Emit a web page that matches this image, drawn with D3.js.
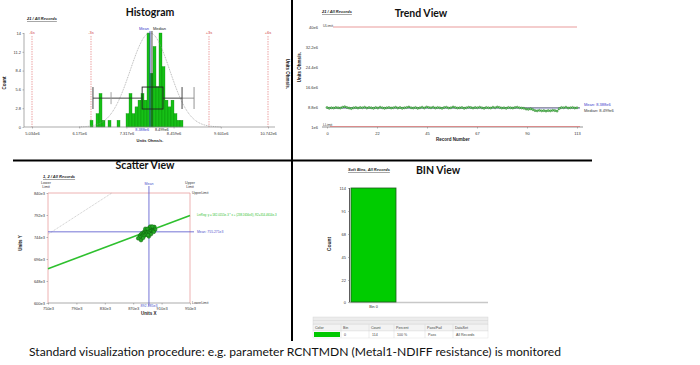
<!DOCTYPE html>
<html>
<head>
<meta charset="utf-8">
<script src="https://cdn.jsdelivr.net/npm/d3@7"></script>
<style>
  body { margin: 0; background: #fff; }
  svg { display: block; }
</style>
</head>
<body>
<div id="chart"></div>
<script>
// ---------- Histogram (x in sigma units around the mean) ----------
const histTickZ = [-6, -3.6, -1.2, 1.2, 3.6, 6];
const histTickLabels = ["5.034e6", "6.175e6", "7.317e6", "8.459e6", "9.601e6", "10.742e6"];
const histYTicks = [0, 2.8, 5.6, 8.4, 11.2, 14];
const histYLabels = ["0", "2.8", "5.6", "8.4", "11.2", "14"];
const histBinStart = -3.05;
const histBinWidth = 0.1525;
const histCounts = [1, 0, 2, 5, 1, 0, 1, 0, 0, 1, 0, 0, 2, 5, 2, 3, 4, 5, 4,
                    14, 8, 12, 6, 14, 9, 4, 3, 4, 2, 1, 1];
const sigmaZ = [-6, -3, 3, 6];
const sigmaLabels = ["-6s", "-3s", "+3s", "+6s"];
const histMedianZ = 0.1;
const histStatLabels = ["8.388e6", "8.499e6"];
const boxZ = [-2.9, -1.98, -0.4, 0.66, 1.63, 2.24]; // min, p5, q1, q3, max, p95

// ---------- Trend ----------
const trendValues = [
  8.6, 8.3, 8.5, 8.4, 8.6, 8.5, 8.4, 8.7, 8.9, 8.6,
  8.4, 8.2, 8.5, 8.6, 8.4, 8.6, 8.5, 8.7, 8.4, 8.6,
  8.5, 8.3, 8.6, 8.4, 8.7, 8.5, 8.3, 8.5, 8.6, 8.4,
  8.5, 8.7, 8.4, 8.6, 8.3, 8.5, 8.6, 8.8, 8.5, 8.4,
  8.6, 8.3, 8.5, 8.7, 8.4, 8.8, 8.6, 8.5, 8.7, 8.4,
  8.6, 8.5, 8.3, 8.6, 8.7, 8.4, 8.5, 8.8, 8.6, 8.4,
  8.5, 8.6, 8.3, 8.5, 8.7, 8.6, 8.4, 8.6, 8.5, 8.7,
  8.5, 8.3, 8.6, 8.5, 8.4, 8.7, 8.5, 8.8, 8.6, 8.4,
  8.5, 8.3, 8.6, 8.5, 8.4, 8.6, 8.7, 8.5, 8.4, 8.3,
  8.0, 7.9, 8.1, 7.8, 7.4, 7.3, 7.5, 7.3, 7.4, 7.2,
  7.4, 7.3, 7.5, 7.4, 7.2, 8.2, 8.6, 8.5, 8.7, 8.4,
  8.5, 8.6, 8.4, 8.5
]; // e6
const trendYTicks = [1e6, 8.8e6, 16.6e6, 24.4e6, 32.2e6, 40e6];
const trendYLabels = ["1e6", "8.8e6", "16.6e6", "24.4e6", "32.2e6", "40e6"];
const trendXTicks = [0, 22.6, 45.2, 67.8, 90.4, 113];
const trendXLabels = ["0", "22", "45", "67", "90", "113"];
const trendLimits = [40e6, 1e6];
const trendStats = [8.388e6, 8.499e6];

// ---------- Scatter (e3) ----------
const scatterX = [880, 882, 884, 885, 886, 887, 888, 889, 890, 891, 892, 893, 894, 895, 896,
                  897, 898, 899, 900, 901, 883, 886, 889, 892, 895, 879, 881, 896, 898, 893,
                  887, 884, 899, 891, 877, 894, 890, 897];
const scatterY = [748, 752, 750, 755, 753, 758, 751, 756, 754, 760, 757, 752, 759, 762, 758,
                  764, 761, 763, 766, 760, 745, 747, 749, 745, 750, 744, 737, 766, 757, 764,
                  762, 742, 755, 748, 741, 767, 762, 767];
const scatterXTicks = [750, 790, 830, 870, 910, 950];
const scatterYTicks = [600, 648, 696, 744, 792, 840];
const scatterMean = [892.185, 755.271];
const regSlope = 0.5820155, regIntercept = 238.1656;

// ---------- BIN ----------
const binLabels = ["Bin 0"];
const binCounts = [114];
const binYTicks = [0, 22, 45, 68, 91, 114];
const tableHeader = ["Color", "Bin", "Count", "Percent", "Pass/Fail", "DataSet"];
const tableRow = ["", "0", "114", "100 %", "Pass", "All Records"];

const FONT = "Liberation Sans, Arial, sans-serif";
const TITLE_FONT = "Lato, Open Sans, sans-serif";

const svg = d3.select("#chart").append("svg")
    .attr("width", 700)
    .attr("height", 365);

function txt(x, y, s, size, opts = {}) {
    const t = svg.append("text")
        .attr("x", x).attr("y", y)
        .attr("font-family", opts.family || FONT)
        .attr("font-size", size)
        .attr("fill", opts.fill || "#222")
        .attr("text-anchor", opts.anchor || "start")
        .text(s);
    if (opts.bold) t.attr("font-weight", "bold");
    if (opts.italic) t.attr("font-style", "italic");
    if (opts.underline) t.attr("text-decoration", "underline");
    if (opts.rotate) t.attr("transform", `rotate(${opts.rotate},${x},${y})`);
    return t;
}

function styleAxis(g) {
    g.attr("font-size", 4).attr("font-family", FONT);
    g.selectAll("text").attr("fill", "#333");
    g.selectAll("line").attr("stroke", "#777").attr("stroke-width", 0.5);
    g.select(".domain").remove();
}

// ================= HISTOGRAM =================
const hx = d3.scaleLinear().domain([-6, 6]).range([32, 268]);
const hy = d3.scaleLinear().domain([0, 14]).range([127, 33]);

txt(150, 16, "Histogram", 10.5, { family: TITLE_FONT, bold: true, anchor: "middle", fill: "#111" });
txt(27, 20, "21 / All Records", 4, { bold: true, italic: true, underline: true });

// sigma lines
sigmaZ.forEach((z, i) => {
    svg.append("line")
        .attr("x1", hx(z)).attr("x2", hx(z))
        .attr("y1", 36).attr("y2", hy(0))
        .attr("stroke", "#e06666").attr("stroke-width", 0.6)
        .attr("stroke-dasharray", "1.5,1");
    txt(hx(z), 34, sigmaLabels[i], 4, { fill: "#d04040", anchor: "middle" });
});

// bars
svg.append("g").selectAll("rect")
    .data(histCounts)
    .join("rect")
    .attr("x", (d, i) => hx(histBinStart + i * histBinWidth))
    .attr("width", hx(histBinWidth) - hx(0))
    .attr("y", d => hy(d))
    .attr("height", d => hy(0) - hy(d))
    .attr("fill", "#16c016")
    .attr("stroke", "#0b7d0b")
    .attr("stroke-width", 0.3);

// fitted normal curve
const curveZ = d3.range(-3.6, 3.61, 0.05);
svg.append("path")
    .datum(curveZ)
    .attr("fill", "none")
    .attr("stroke", "#888")
    .attr("stroke-width", 0.6)
    .attr("stroke-dasharray", "1,0.8")
    .attr("d", d3.line().x(z => hx(z)).y(z => hy(14 * Math.exp(-z * z / 2))));

// mean / median lines
svg.append("line").attr("x1", hx(0)).attr("x2", hx(0)).attr("y1", 31).attr("y2", hy(0))
    .attr("stroke", "#3a3acc").attr("stroke-width", 0.8);
svg.append("line").attr("x1", hx(histMedianZ)).attr("x2", hx(histMedianZ)).attr("y1", 31).attr("y2", hy(0))
    .attr("stroke", "#222").attr("stroke-width", 0.8);
txt(hx(0) - 1, 30, "Mean", 4, { fill: "#3a3acc", anchor: "end" });
txt(hx(histMedianZ) + 1, 30, "Median", 4, { fill: "#222" });

// box plot
const boxTop = hy(5.95), boxBot = hy(2.68), whY = hy(4.3);
svg.append("rect")
    .attr("x", hx(boxZ[2])).attr("y", boxTop)
    .attr("width", hx(boxZ[3]) - hx(boxZ[2])).attr("height", boxBot - boxTop)
    .attr("fill", "none").attr("stroke", "#222").attr("stroke-width", 0.9);
[[boxZ[0], boxZ[2], "#333"], [boxZ[3], boxZ[4], "#333"], [boxZ[4], boxZ[5], "#888"]].forEach(s => {
    svg.append("line").attr("x1", hx(s[0])).attr("x2", hx(s[1])).attr("y1", whY).attr("y2", whY)
        .attr("stroke", s[2]).attr("stroke-width", 0.9);
});
[[boxZ[0], boxTop, boxBot, "#333"], [boxZ[4], boxTop, boxBot, "#333"],
 [boxZ[1], whY - 6, whY + 6, "#999"], [boxZ[5], boxTop, boxBot, "#888"]].forEach(c => {
    svg.append("line").attr("x1", hx(c[0])).attr("x2", hx(c[0])).attr("y1", c[1]).attr("y2", c[2])
        .attr("stroke", c[3]).attr("stroke-width", 0.9);
});

// axes
svg.append("line").attr("x1", 24).attr("x2", 275).attr("y1", hy(0)).attr("y2", hy(0)).attr("stroke", "#888").attr("stroke-width", 0.7);
svg.append("line").attr("x1", 24).attr("x2", 24).attr("y1", hy(14)).attr("y2", hy(0)).attr("stroke", "#888").attr("stroke-width", 0.7);
svg.append("g").attr("transform", `translate(0,${hy(0)})`)
    .call(d3.axisBottom(hx).tickValues(histTickZ).tickFormat((d, i) => histTickLabels[i]).tickSize(1.5).tickPadding(4))
    .call(styleAxis);
svg.append("g").attr("transform", "translate(24,0)")
    .call(d3.axisLeft(hy).tickValues(histYTicks).tickFormat((d, i) => histYLabels[i]).tickSize(1.5).tickPadding(1.5))
    .call(styleAxis);
txt(hx(0) - 1, 130.5, histStatLabels[0], 3.8, { fill: "#3a3acc", anchor: "end" });
txt(hx(histMedianZ) + 3, 130.5, histStatLabels[1], 3.8, { fill: "#222" });
txt(150, 142, "Units Ohms/s.", 4, { anchor: "middle", bold: true });
txt(6, 83, "Count", 4.5, { anchor: "middle", bold: true, rotate: -90 });
txt(286, 74, "Units Ohms/s.", 4.5, { anchor: "middle", bold: true, rotate: 90 });

// ================= TREND =================
const tx = d3.scaleLinear().domain([0, 113]).range([327, 577]);
const ty = d3.scaleLinear().domain([1e6, 40e6]).range([127, 27]);

txt(421, 17, "Trend View", 10.5, { family: TITLE_FONT, bold: true, anchor: "middle", fill: "#111" });
txt(322, 13, "21 / All Records", 4, { bold: true, italic: true, underline: true });

svg.append("line").attr("x1", 322).attr("x2", 583).attr("y1", ty(1e6)).attr("y2", ty(1e6)).attr("stroke", "#666").attr("stroke-width", 0.7);
svg.append("g").attr("transform", `translate(0,${ty(1e6)})`)
    .call(d3.axisBottom(tx).tickValues(trendXTicks).tickFormat((d, i) => trendXLabels[i]).tickSize(1.5).tickPadding(4))
    .call(styleAxis);
svg.append("g").attr("transform", "translate(322,0)")
    .call(d3.axisLeft(ty).tickValues(trendYTicks).tickFormat((d, i) => trendYLabels[i]).tickSize(0).tickPadding(4))
    .call(styleAxis);

// limits
svg.append("line").attr("x1", 333).attr("x2", 577).attr("y1", ty(trendLimits[0])).attr("y2", ty(trendLimits[0]))
    .attr("stroke", "#e07070").attr("stroke-width", 0.7);
svg.append("line").attr("x1", 330).attr("x2", 580).attr("y1", ty(trendLimits[1]) - 0.5).attr("y2", ty(trendLimits[1]) - 0.5)
    .attr("stroke", "#e07070").attr("stroke-width", 0.7);
txt(323, ty(trendLimits[0]) - 0.5, "ULimit", 3.5, { fill: "#444" });
txt(323, ty(trendLimits[1]) - 1, "LLimit", 3.5, { fill: "#444" });

// mean / median
svg.append("line").attr("x1", 327).attr("x2", 580).attr("y1", ty(trendStats[0])).attr("y2", ty(trendStats[0]))
    .attr("stroke", "#3a3acc").attr("stroke-width", 0.5);
svg.append("line").attr("x1", 327).attr("x2", 580).attr("y1", ty(trendStats[1])).attr("y2", ty(trendStats[1]))
    .attr("stroke", "#333").attr("stroke-width", 0.5);
txt(584, 106, "Mean: 8.388e6", 4, { fill: "#3a3acc" });
txt(584, 111.5, "Median: 8.499e6", 4, { fill: "#333" });

svg.append("path")
    .datum(trendValues)
    .attr("fill", "none")
    .attr("stroke", "#2e8b2e")
    .attr("stroke-width", 0.8)
    .attr("d", d3.line().x((d, i) => tx(i)).y(d => ty(d * 1e6)));
svg.append("g").selectAll("circle")
    .data(trendValues)
    .join("circle")
    .attr("cx", (d, i) => tx(i))
    .attr("cy", d => ty(d * 1e6))
    .attr("r", 1.1)
    .attr("fill", "#6fcf6f")
    .attr("stroke", "#1f6f1f")
    .attr("stroke-width", 0.4);

txt(453, 141, "Record Number", 4.5, { anchor: "middle", bold: true });
txt(301, 67, "Units Ohms/s.", 4.5, { anchor: "middle", bold: true, rotate: -90 });

// ================= SCATTER =================
const sx = d3.scaleLinear().domain([750, 950]).range([48, 190]);
const sy = d3.scaleLinear().domain([600, 840]).range([303, 193]);

txt(145, 168.5, "Scatter View", 10.5, { family: TITLE_FONT, bold: true, anchor: "middle", fill: "#111" });
txt(43, 178, "1, 2 / All Records", 4, { bold: true, italic: true, underline: true });

// limit box
svg.append("path")
    .attr("d", `M${sx(750)},${sy(600)}V${sy(840)}H${sx(950)}V${sy(600)}`)
    .attr("fill", "none").attr("stroke", "#e8a0a0").attr("stroke-width", 0.8);
txt(sx(750) - 2, 184, "Lower", 3.6, { anchor: "middle", fill: "#333" });
txt(sx(750) - 2, 188, "Limit", 3.6, { anchor: "middle", fill: "#333" });
txt(sx(950), 184, "Upper", 3.6, { anchor: "middle", fill: "#333" });
txt(sx(950), 188, "Limit", 3.6, { anchor: "middle", fill: "#333" });
txt(sx(950) + 2, sy(840) + 1.3, "UpperLimit", 3.4, { fill: "#333" });
txt(sx(950) + 2, sy(600) + 1.3, "LowerLimit", 3.4, { fill: "#333" });

// axes
svg.append("line").attr("x1", sx(750)).attr("x2", sx(950)).attr("y1", sy(600)).attr("y2", sy(600)).attr("stroke", "#888").attr("stroke-width", 0.7);
svg.append("g").attr("transform", `translate(0,${sy(600)})`)
    .call(d3.axisBottom(sx).tickValues(scatterXTicks).tickFormat(d => d + "e3").tickSize(1.5).tickPadding(2.5))
    .call(styleAxis);
svg.append("g").attr("transform", `translate(${sx(750)},0)`)
    .call(d3.axisLeft(sy).tickValues(scatterYTicks).tickFormat(d => d + "e3").tickSize(1.5).tickPadding(1.5))
    .call(styleAxis);
svg.selectAll("g").filter(function () { return false; });

// identity line
svg.append("line")
    .attr("x1", sx(750)).attr("y1", sy(750)).attr("x2", sx(840)).attr("y2", sy(840))
    .attr("stroke", "#999").attr("stroke-width", 0.5).attr("stroke-dasharray", "1,0.8");

// mean lines
svg.append("line").attr("x1", sx(scatterMean[0])).attr("x2", sx(scatterMean[0])).attr("y1", 186).attr("y2", 306)
    .attr("stroke", "#5050cc").attr("stroke-width", 0.8);
svg.append("line").attr("x1", sx(750)).attr("x2", 194).attr("y1", sy(scatterMean[1])).attr("y2", sy(scatterMean[1]))
    .attr("stroke", "#5050cc").attr("stroke-width", 0.8);
txt(sx(scatterMean[0]), 185, "Mean", 3.6, { anchor: "middle", fill: "#5050cc" });
txt(sx(scatterMean[0]), 307, scatterMean[0] + "e3", 3.6, { anchor: "middle", fill: "#5050cc" });
txt(197, sy(scatterMean[1]) + 1.3, "Mean: " + scatterMean[1] + "e3", 3.4, { fill: "#5050cc" });

// regression
svg.append("line")
    .attr("x1", sx(750)).attr("y1", sy(regSlope * 750 + regIntercept))
    .attr("x2", sx(950)).attr("y2", sy(regSlope * 950 + regIntercept))
    .attr("stroke", "#2ec02e").attr("stroke-width", 1.6);
txt(197, 216, "LinReg: y = 582.0155e-3 * x + (238.1656e3), R2=314.4614e-3", 2.9, { fill: "#2ec02e" });

svg.append("g").selectAll("circle")
    .data(scatterX)
    .join("circle")
    .attr("cx", d => sx(d))
    .attr("cy", (d, i) => sy(scatterY[i]))
    .attr("r", 1.8)
    .attr("fill", "#22a822")
    .attr("stroke", "#0d5e0d")
    .attr("stroke-width", 0.5);

txt(22, 243, "Units Y", 4.5, { anchor: "middle", bold: true, rotate: -90 });
txt(sx(892), 315, "Units X", 4.5, { anchor: "middle", bold: true });

// ================= BIN VIEW =================
const bx = d3.scaleBand().domain(binLabels).range([351, 396]).padding(0);
const by = d3.scaleLinear().domain([0, 114]).range([302, 188]);

txt(438, 174, "BIN View", 10.5, { family: TITLE_FONT, bold: true, anchor: "middle", fill: "#111" });
txt(348, 171, "Soft Bins, All Records", 4, { bold: true, italic: true, underline: true });

svg.append("line").attr("x1", 349).attr("x2", 488).attr("y1", 302.5).attr("y2", 302.5)
    .attr("stroke", "#c8c8c8").attr("stroke-width", 1.4);
svg.append("g").selectAll("rect")
    .data(binCounts)
    .join("rect")
    .attr("x", (d, i) => bx(binLabels[i]))
    .attr("width", bx.bandwidth())
    .attr("y", d => by(d))
    .attr("height", d => by(0) - by(d))
    .attr("fill", "#00cc00")
    .attr("stroke", "#1d5a1d")
    .attr("stroke-width", 0.8);
svg.append("line").attr("x1", 349.5).attr("x2", 349.5).attr("y1", by(114)).attr("y2", by(0))
    .attr("stroke", "#333").attr("stroke-width", 0.8);
svg.append("g").attr("transform", "translate(349.5,0)")
    .call(d3.axisLeft(by).tickValues(binYTicks).tickSize(1.5).tickPadding(2))
    .call(styleAxis);
binLabels.forEach(b => txt(bx(b) + bx.bandwidth() / 2, 308, b, 3.8, { anchor: "middle", fill: "#333" }));
txt(331, 244, "Count", 5, { anchor: "middle", bold: true, rotate: -90 });

// table
const colX = [313, 341, 369, 394, 425, 453, 488];
svg.append("rect").attr("x", 313).attr("y", 317).attr("width", 175).attr("height", 7)
    .attr("fill", "#ececec").attr("stroke", "#d0d0d0").attr("stroke-width", 0.4);
svg.append("line").attr("x1", 313).attr("x2", 488).attr("y1", 320.5).attr("y2", 320.5).attr("stroke", "#d0d0d0").attr("stroke-width", 0.4);
svg.append("rect").attr("x", 313).attr("y", 324.5).attr("width", 175).attr("height", 6.5)
    .attr("fill", "#f3f3f3").attr("stroke", "#cfcfcf").attr("stroke-width", 0.4);
svg.append("rect").attr("x", 313).attr("y", 331).attr("width", 175).attr("height", 7)
    .attr("fill", "#fff").attr("stroke", "#dcdcdc").attr("stroke-width", 0.4);
svg.append("rect").attr("x", 314).attr("y", 332).attr("width", 26).attr("height", 5).attr("fill", "#00c800");
colX.slice(1, -1).forEach(x => {
    svg.append("line").attr("x1", x).attr("x2", x).attr("y1", 324.5).attr("y2", 338)
        .attr("stroke", "#d0d0d0").attr("stroke-width", 0.4);
});
tableHeader.forEach((h, i) => txt(colX[i] + 2, 329.3, h, 3.6, { fill: "#444" }));
tableRow.forEach((v, i) => { if (v) txt(colX[i] + 3, 336, v, 3.6, { fill: "#444" }); });

// ================= DIVIDERS & CAPTION =================
svg.append("line").attr("x1", 292).attr("x2", 292).attr("y1", 0).attr("y2", 341)
    .attr("stroke", "#000").attr("stroke-width", 2);
svg.append("line").attr("x1", 13).attr("x2", 592).attr("y1", 160.5).attr("y2", 160.5)
    .attr("stroke", "#000").attr("stroke-width", 2);

svg.append("text")
    .attr("x", 29).attr("y", 356)
    .attr("font-family", "Lato, Open Sans, sans-serif")
    .attr("font-size", 12)
    .attr("fill", "#111")
    .attr("textLength", 532)
    .attr("lengthAdjust", "spacingAndGlyphs")
    .text("Standard visualization procedure: e.g. parameter RCNTMDN (Metal1-NDIFF resistance) is monitored");
</script>
</body>
</html>
